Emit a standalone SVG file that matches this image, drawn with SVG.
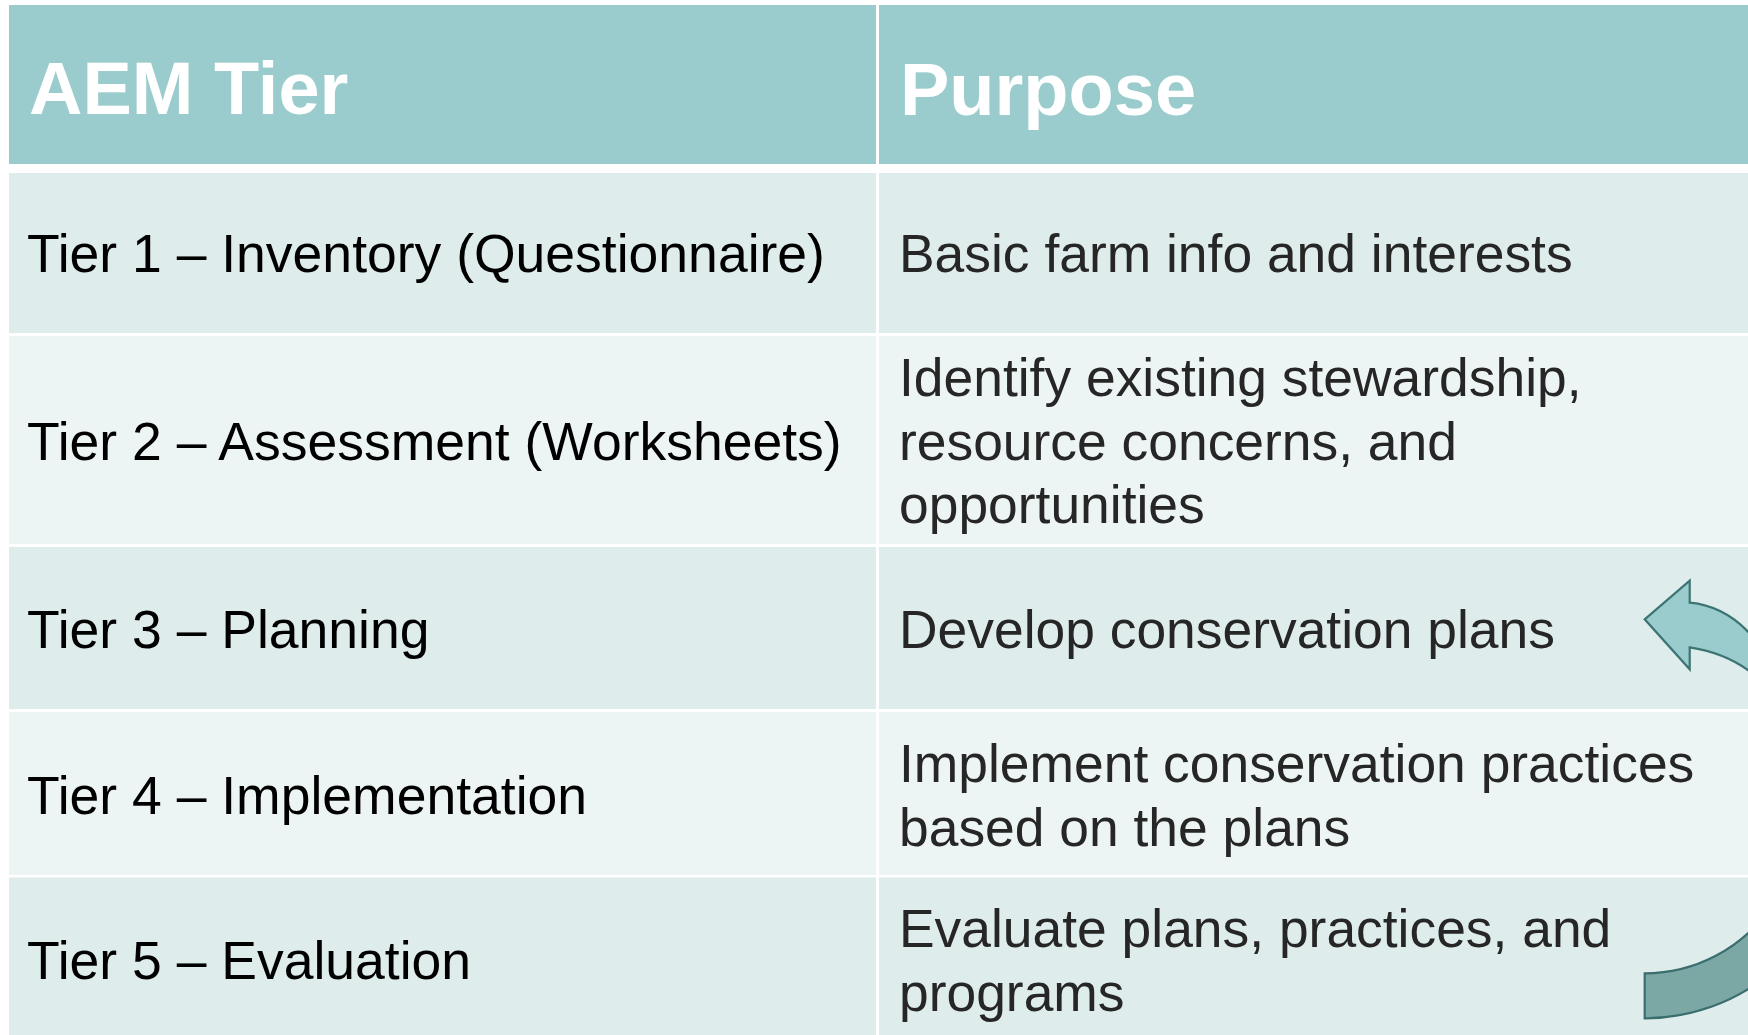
<svg xmlns="http://www.w3.org/2000/svg" width="1748" height="1035" viewBox="0 0 1748 1035">
<style>
.hdr{fill:#9BCCCD}
.odd{fill:#DEECEB}
.even{fill:#EDF5F4}
.htxt{font-family:"Liberation Sans",Arial,sans-serif;font-weight:bold;font-size:74px;fill:#FFFFFF}
.ltxt{font-family:"Liberation Sans",Arial,sans-serif;font-size:53.5px;fill:#000000}
.rtxt{font-family:"Liberation Sans",Arial,sans-serif;font-size:53.4px;fill:#262626}
.arrowA{fill:#9BCCCD;stroke:#3C7474;stroke-width:2.2;stroke-linejoin:miter}
.arrowB{fill:#7BA7A5;stroke:#3A6E6E;stroke-width:2.2}
</style>
<rect x="0" y="0" width="1748" height="1035" fill="#FFFFFF"/>
<g id="header">
<rect class="hdr" x="9" y="5" width="867" height="159"/>
<rect class="hdr" x="879" y="5" width="880" height="159"/>
<text class="htxt" x="29" y="114">AEM Tier</text>
<text class="htxt" x="900" y="115">Purpose</text>
</g>
<g id="tier1">
<rect class="odd" x="9" y="173" width="867" height="160"/>
<rect class="odd" x="879" y="173" width="880" height="160"/>
<text class="ltxt" x="27" y="272">Tier 1 – Inventory (Questionnaire)</text>
<text class="rtxt" x="899" y="272">Basic farm info and interests</text>
</g>
<g id="tier2">
<rect class="even" x="9" y="336" width="867" height="208"/>
<rect class="even" x="879" y="336" width="880" height="208"/>
<text class="ltxt" x="27" y="460">Tier 2 – Assessment (Worksheets)</text>
<text class="rtxt" x="899" y="396">Identify existing stewardship,</text>
<text class="rtxt" x="899" y="459.5">resource concerns, and</text>
<text class="rtxt" x="899" y="523">opportunities</text>
</g>
<g id="tier3">
<rect class="odd" x="9" y="547" width="867" height="162"/>
<rect class="odd" x="879" y="547" width="880" height="162"/>
<text class="ltxt" x="27" y="648">Tier 3 – Planning</text>
<text class="rtxt" x="899" y="648">Develop conservation plans</text>
</g>
<g id="tier4">
<rect class="even" x="9" y="712" width="867" height="163"/>
<rect class="even" x="879" y="712" width="880" height="163"/>
<text class="ltxt" x="27" y="814">Tier 4 – Implementation</text>
<text class="rtxt" x="899" y="782">Implement conservation practices</text>
<text class="rtxt" x="899" y="846">based on the plans</text>
</g>
<g id="tier5">
<rect class="odd" x="9" y="877.5" width="867" height="160"/>
<rect class="odd" x="879" y="877.5" width="880" height="160"/>
<text class="ltxt" x="27" y="979">Tier 5 – Evaluation</text>
<text class="rtxt" x="899" y="947">Evaluate plans, practices, and</text>
<text class="rtxt" x="899" y="1011">programs</text>
</g>
<g id="cycle-arrows">
<path class="arrowA" d="M1644.7,619.3 L1689.7,580.7 L1689.7,602.7 Q1723,605.8 1748,631.7 L1775,660 L1775,700 L1748,670 Q1723,652.3 1689.7,647.3 L1689.7,669.3 Z"/>
<path class="arrowB" d="M1644.7,973.3 A153,153 0 0 0 1770,908 L1770,973.6 A198,198 0 0 1 1644.7,1018.3 Z"/>
</g>
</svg>
